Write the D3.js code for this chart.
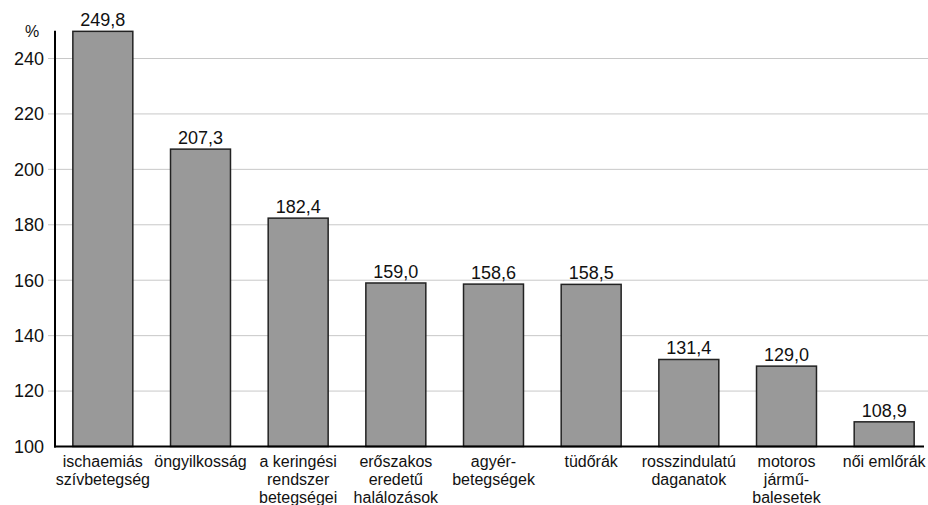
<!DOCTYPE html>
<html><head><meta charset="utf-8">
<script src="https://cdn.jsdelivr.net/npm/d3@7"></script>
<style>body{margin:0;background:#fff}svg{display:block;font-family:"Liberation Sans",Arial,sans-serif}</style>
</head><body>
<svg id="c" width="928" height="505"></svg>
<script>
const categories = [
  ["ischaemiás","szívbetegség"],
  ["öngyilkosság"],
  ["a keringési","rendszer","betegségei"],
  ["erőszakos","eredetű","halálozások"],
  ["agyér-","betegségek"],
  ["tüdőrák"],
  ["rosszindulatú","daganatok"],
  ["motoros","jármű-","balesetek"],
  ["női emlőrák"]
];
const values = [249.8, 207.3, 182.4, 159.0, 158.6, 158.5, 131.4, 129.0, 108.9];
const yTicks = [100, 120, 140, 160, 180, 200, 220, 240];
const yUnit = "%";

const svg = d3.select("#c");
const x = d3.scaleBand().domain(d3.range(values.length)).range([54, 933]).paddingInner(0.386).paddingOuter(0.193);
const y = d3.scaleLinear().domain([100, 240]).range([446.5, 58.5]);
const fmt = v => v.toFixed(1).replace(".", ",");

// gridlines
svg.append("g").selectAll("line").data(yTicks.filter(t => t > 100)).join("line")
  .attr("x1", 48).attr("x2", 928).attr("y1", d => y(d)).attr("y2", d => y(d))
  .attr("stroke", "#c8c8c8").attr("stroke-width", 1);

// y tick labels
svg.append("g").selectAll("text").data(yTicks).join("text")
  .attr("x", 44).attr("y", d => y(d)).attr("dy", "0.35em")
  .attr("text-anchor", "end").attr("font-size", 18).attr("fill", "#111").text(d => d);
svg.append("text").attr("x", 25).attr("y", 37).attr("font-size", 16).attr("fill", "#111").text(yUnit);

// bars
svg.append("g").selectAll("rect").data(values).join("rect")
  .attr("x", (d, i) => x(i)).attr("width", x.bandwidth())
  .attr("y", d => y(d)).attr("height", d => y(100) - y(d))
  .attr("fill", "#999999").attr("stroke", "#222").attr("stroke-width", 1.5);

// value labels
svg.append("g").selectAll("text").data(values).join("text")
  .attr("x", (d, i) => x(i) + x.bandwidth() / 2).attr("y", d => y(d) - 5)
  .attr("text-anchor", "middle").attr("font-size", 18).attr("fill", "#111").text(fmt);

// axes lines
svg.append("line").attr("x1", 55).attr("x2", 55).attr("y1", y(250)).attr("y2", y(100) + 1)
  .attr("stroke", "#000").attr("stroke-width", 2);
svg.append("line").attr("x1", 54).attr("x2", 924).attr("y1", y(100)).attr("y2", y(100))
  .attr("stroke", "#000").attr("stroke-width", 2);

// category labels
const cg = svg.append("g").selectAll("text").data(categories).join("text")
  .attr("text-anchor", "middle").attr("font-size", 16).attr("fill", "#111")
  .attr("transform", (d, i) => `translate(${x(i) + x.bandwidth() / 2},467)`);
cg.selectAll("tspan").data(d => d).join("tspan")
  .attr("x", 0).attr("y", (d, j) => j * 18).text(d => d);
</script>
</body></html>
